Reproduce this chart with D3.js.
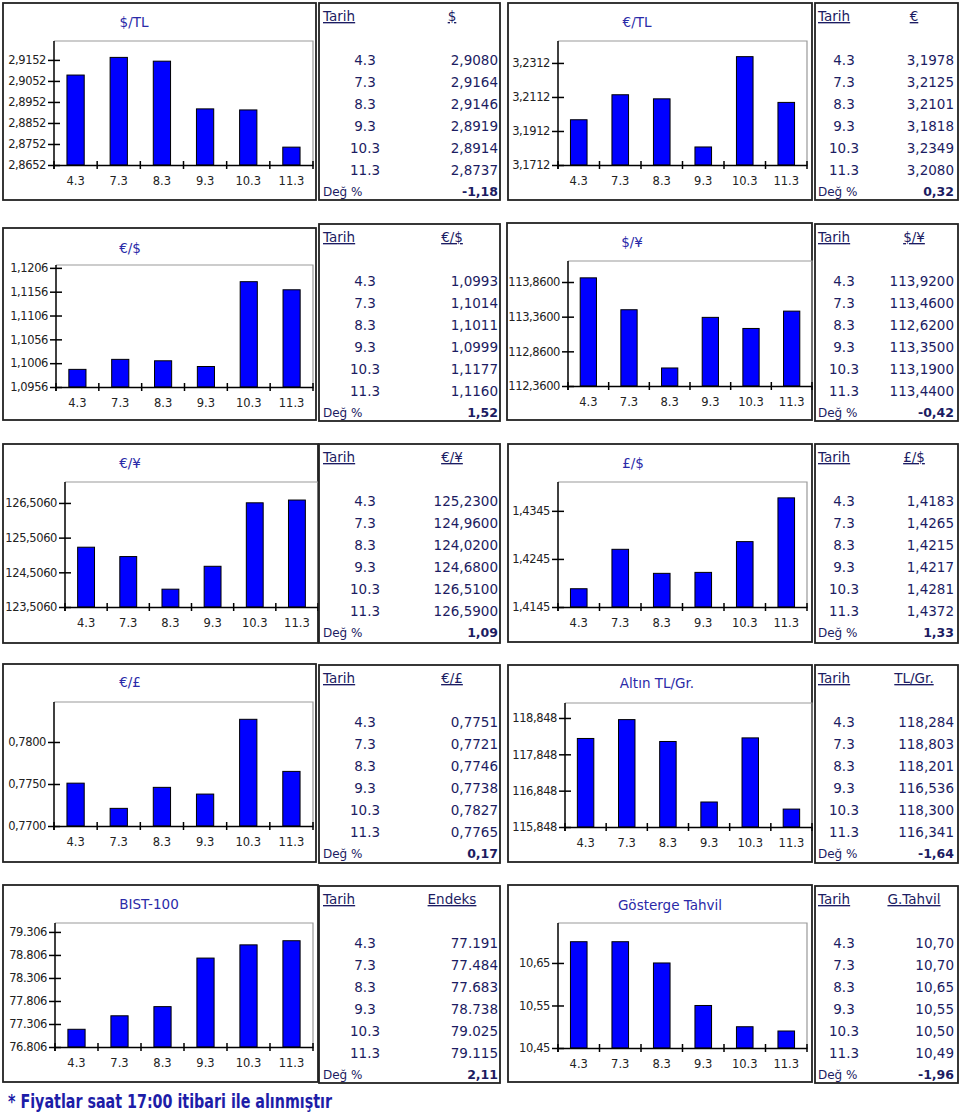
<!DOCTYPE html>
<html><head><meta charset="utf-8">
<script src="https://cdn.jsdelivr.net/npm/d3@7"></script>
<style>body{margin:0;background:#fff}svg{display:block}text{font-family:"DejaVu Sans",sans-serif}</style>
</head><body><svg id="c" width="960" height="1112"></svg>
<script>
// ---------------- DATA ----------------
const dates = ["4.3","7.3","8.3","9.3","10.3","11.3"];
const titles = ["$/TL","€/TL","€/$","$/¥","€/¥","£/$","€/£","Altın TL/Gr.","BIST-100","Gösterge Tahvil"];
const tableHeaders = ["$","€","€/$","$/¥","€/¥","£/$","€/£","TL/Gr.","Endeks","G.Tahvil"];
const usdTry  = [2.9080, 2.9164, 2.9146, 2.8919, 2.8914, 2.8737];
const eurTry  = [3.1978, 3.2125, 3.2101, 3.1818, 3.2349, 3.2080];
const eurUsd  = [1.0993, 1.1014, 1.1011, 1.0999, 1.1177, 1.1160];
const usdJpy  = [113.92, 113.46, 112.62, 113.35, 113.19, 113.44];
const eurJpy  = [125.23, 124.96, 124.02, 124.68, 126.51, 126.59];
const gbpUsd  = [1.4183, 1.4265, 1.4215, 1.4217, 1.4281, 1.4372];
const eurGbp  = [0.7751, 0.7721, 0.7746, 0.7738, 0.7827, 0.7765];
const goldTry = [118.284, 118.803, 118.201, 116.536, 118.300, 116.341];
const bist100 = [77191, 77484, 77683, 78738, 79025, 79115];
const bondYield = [10.70, 10.70, 10.65, 10.55, 10.50, 10.49];
const changes = [-1.18, 0.32, 1.52, -0.42, 1.09, 1.33, 0.17, -1.64, 2.11, -1.96];

const ticksUsdTry  = [2.8652, 2.8752, 2.8852, 2.8952, 2.9052, 2.9152];
const ticksEurTry  = [3.1712, 3.1912, 3.2112, 3.2312];
const ticksEurUsd  = [1.0956, 1.1006, 1.1056, 1.1106, 1.1156, 1.1206];
const ticksUsdJpy  = [112.36, 112.86, 113.36, 113.86];
const ticksEurJpy  = [123.506, 124.506, 125.506, 126.506];
const ticksGbpUsd  = [1.4145, 1.4245, 1.4345];
const ticksEurGbp  = [0.7700, 0.7750, 0.7800];
const ticksGold    = [115.848, 116.848, 117.848, 118.848];
const ticksBist    = [76806, 77306, 77806, 78306, 78806, 79306];
const ticksBond    = [10.45, 10.55, 10.65];
const axisMax = [2.9242, 3.2441, 1.1212, 114.163, 127.11, 1.4405, 0.78476, 119.26, 79500, 10.744];
const tickFormats  = [".4f", ".4f", ".4f", ".4f", ".4f", ".4f", ".4f", ".3f", ",.0f", ".2f"];
const tableFormats = [".4f", ".4f", ".4f", ".4f", ".4f", ".4f", ".4f", ".3f", ",.0f", ".2f"];
const footnote = "* Fiyatlar saat 17:00 itibari ile alınmıştır";

// ---------------- LAYOUT ----------------
const series = [usdTry, eurTry, eurUsd, usdJpy, eurJpy, gbpUsd, eurGbp, goldTry, bist100, bondYield];
const tickSets = [ticksUsdTry, ticksEurTry, ticksEurUsd, ticksUsdJpy, ticksEurJpy, ticksGbpUsd, ticksEurGbp, ticksGold, ticksBist, ticksBond];

const chartBox = [
  {box:[3,3,316,200],   plot:[54,41,313,165],   t:[134,22]},
  {box:[508,3,812,200], plot:[558,41,807,165],  t:[637,22]},
  {box:[3,228,316,420], plot:[56,265,313,387],  t:[130,248]},
  {box:[507,223,812,420], plot:[568,261,812,386], t:[632,242]},
  {box:[3,444,318,643], plot:[65,482,318,607],  t:[130,463]},
  {box:[508,444,812,642], plot:[558,482,807,607], t:[633,463]},
  {box:[3,664,316,862], plot:[54,702,313,826],  t:[130,682]},
  {box:[508,665,812,862], plot:[565,703,812,827], t:[657,683]},
  {box:[3,885,318,1082], plot:[55,923,313,1047], t:[149,904]},
  {box:[508,885,812,1082], plot:[558,923,807,1048], t:[670,905]}
];
const tableTops = [3,224,444,665,886], tableBottoms = [200,421,643,863,1083];
const tableCols = [
  {x0:319, x1:500, tarih:323, date:365, val:498, head:452},
  {x0:815, x1:958, tarih:818, date:844, val:954, head:914}
];

const loc = d3.formatLocale({decimal:",", thousands:".", grouping:[3], currency:["",""], minus:"-"});
const svg = d3.select("#c");
svg.append("rect").attr("width",960).attr("height",1112).attr("fill","#fff");

const TITLE = "#2a2aa8", NAVY = "#1c1c62";

series.forEach((vals, i) => {
  const L = chartBox[i];
  const [bx0,by0,bx1,by1] = L.box, [px0,py0,px1,py1] = L.plot;
  const g = svg.append("g");
  g.append("rect").attr("x",bx0).attr("y",by0).attr("width",bx1-bx0).attr("height",by1-by0)
    .attr("fill","#fff").attr("stroke","#222").attr("stroke-width",1.8);
  g.append("text").attr("x",L.t[0]).attr("y",L.t[1]+5).attr("text-anchor","middle")
    .attr("font-size",13.5).attr("fill",TITLE).text(titles[i]);

  const x = d3.scaleBand().domain(dates).range([px0,px1]).paddingInner(0.6).paddingOuter(0.3);
  const y = d3.scaleLinear().domain([tickSets[i][0], axisMax[i]]).range([py1,py0]);

  g.append("path").attr("d",`M${px0},${py0}H${px1}V${py1}`).attr("fill","none").attr("stroke","#999").attr("stroke-width",1.2);

  g.selectAll("rect.bar").data(vals).join("rect").attr("class","bar")
    .attr("x",(d,j)=>x(dates[j])).attr("width",x.bandwidth())
    .attr("y",d=>y(d)).attr("height",d=>py1-y(d))
    .attr("fill","#0000ff").attr("stroke","#000").attr("stroke-width",1);

  const fmt = loc.format(tickFormats[i]);
  const ya = g.append("g").attr("transform",`translate(${px0},0)`)
    .call(d3.axisLeft(y).tickValues(tickSets[i]).tickFormat(fmt).tickSizeOuter(0));
  ya.select(".domain").attr("d",`M0,${py0}V${py1+4}`).attr("stroke","#000").attr("stroke-width",1.5);
  ya.selectAll(".tick line").attr("x1",6).attr("x2",-6).attr("stroke","#000").attr("stroke-width",1.5);
  ya.selectAll(".tick text").attr("x",-8).attr("font-size",11.5).attr("letter-spacing","-0.4")
    .attr("fill","#222").attr("font-family","DejaVu Sans");

  const xa = g.append("g").attr("transform",`translate(0,${py1})`)
    .call(d3.axisBottom(x).tickSize(0).tickPadding(12));
  xa.select(".domain").attr("stroke","#000").attr("stroke-width",1.5);
  xa.selectAll(".tick text").attr("font-size",11.5).attr("fill","#222").attr("font-family","DejaVu Sans");
  const bounds = d3.range(dates.length+1).map(k => px0 + k*x.step());
  xa.selectAll("line.bt").data(bounds).join("line").attr("class","bt")
    .attr("x1",d=>d).attr("x2",d=>d).attr("y1",-4).attr("y2",4).attr("stroke","#000").attr("stroke-width",1.5);

  // table
  const row = Math.floor(i/2), col = i%2, C = tableCols[col];
  const top = tableTops[row], bot = tableBottoms[row];
  const tg = svg.append("g").attr("fill",NAVY);
  tg.append("rect").attr("x",C.x0).attr("y",top).attr("width",C.x1-C.x0).attr("height",bot-top)
    .attr("fill","#fff").attr("stroke","#222").attr("stroke-width",1.8);
  tg.append("text").attr("x",C.tarih).attr("y",top+18).attr("font-size",13.5).attr("text-decoration","underline").text("Tarih");
  tg.append("text").attr("x",C.head).attr("y",top+18).attr("font-size",13.5).attr("text-anchor","middle").attr("text-decoration","underline").text(tableHeaders[i]);
  const tf = loc.format(tableFormats[i]);
  dates.forEach((dt,j)=>{
    tg.append("text").attr("x",C.date).attr("y",top+62+22*j).attr("font-size",13.5).attr("text-anchor","middle").text(dt);
    tg.append("text").attr("x",C.val).attr("y",top+62+22*j).attr("font-size",13.5).attr("text-anchor","end").text(tf(vals[j]));
  });
  tg.append("text").attr("x",C.tarih).attr("y",top+193).attr("font-size",12).text("Değ %");
  tg.append("text").attr("x",C.val).attr("y",top+193).attr("font-size",12.5).attr("font-weight","bold").attr("text-anchor","end")
    .text(loc.format(".2f")(changes[i]));
});

svg.append("text").attr("x",8).attr("y",1108).attr("font-size",19).attr("font-weight","bold")
  .attr("fill","#1d1da8").attr("textLength",324).attr("lengthAdjust","spacingAndGlyphs").text(footnote);
</script></body></html>
